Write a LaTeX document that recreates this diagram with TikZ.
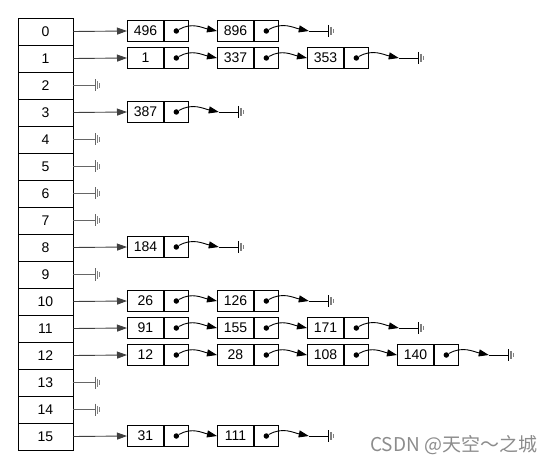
\documentclass[tikz,border=0pt]{standalone}
\usepackage{fontspec}
\setmainfont{Liberation Sans}
\newfontfamily\cjkfont{Noto Sans CJK SC}
\usetikzlibrary{arrows.meta}
\begin{document}
\begin{tikzpicture}[x=1pt,y=-1pt,line width=0.9pt,
  numfont/.style={font=\fontsize{14}{15}\selectfont},
  cell/.style={draw, minimum width=55pt, minimum height=27pt, inner sep=0pt, numfont},
  valbox/.style={draw, minimum width=36pt, minimum height=21pt, inner sep=0pt, anchor=west, numfont},
  ptrbox/.style={draw, minimum width=24pt, minimum height=21pt, inner sep=0pt, anchor=west},
  dotnode/.style={circle, fill, inner sep=0pt, minimum size=5.5pt},
  headlink/.style={-{Triangle[length=10pt,width=7pt]}, draw=black!75},
  link/.style={-{Triangle[length=10pt,width=7pt]}},
  ground/.pic={
    \draw[line width=1.3pt] (0,-6) -- (0,6);
    \draw[gray, line width=1.2pt] (2.2,-4) -- (2.2,4);
    \draw[gray, line width=1.2pt] (4.4,-2.2) -- (4.4,2.2);
  }
]
\useasboundingbox (0,0) rectangle (557,465);

% hash table array
\foreach \i in {0,...,15} {
  \node[cell] (a\i) at (45.5, {31.5+27*\i}) {\i};
}

% empty buckets
\foreach \r in {2,4,5,6,7,9,13,14} {
  \coordinate (g\r) at ([xshift=22pt]a\r.east);
  \draw[black!60] (a\r.east) -- (g\r);
  \pic[black!60] at (g\r) {ground};
}

% chains
\foreach \r/\last/\vals in {0/1/{496,896},1/2/{1,337,353},3/0/{387},8/0/{184},
    10/1/{26,126},11/2/{91,155,171},12/3/{12,28,108,140},15/1/{31,111}} {
  \foreach \v [count=\k from 0, remember=\k as \kp (initially -1)] in \vals {
    \node[valbox] (v\r-\k) at ({127+90*\k}, {31+27*\r}) {\v};
    \node[ptrbox] (p\r-\k) at (v\r-\k.east) {};
    \node[dotnode] (d\r-\k) at (p\r-\k.center) {};
    \ifnum\k=0
      \draw[headlink] (a\r.east) -- (v\r-\k.west);
    \else
      \draw[link] (d\r-\kp) to[out=30,in=168] (v\r-\k.west);
    \fi
  }
  \coordinate (t\r) at ([xshift=30pt]p\r-\last.east);
  \coordinate (g\r) at ([xshift=20pt]t\r);
  \draw[link] (d\r-\last) to[out=30,in=168] (t\r);
  \draw (t\r) -- (g\r);
  \pic at (g\r) {ground};
}

% watermark text
\node[text=black!45, font=\cjkfont\fontsize{19}{21}\selectfont, anchor=east] (wm) at (541, 445) {CSDN @天空～之城};
\end{tikzpicture}
\end{document}
